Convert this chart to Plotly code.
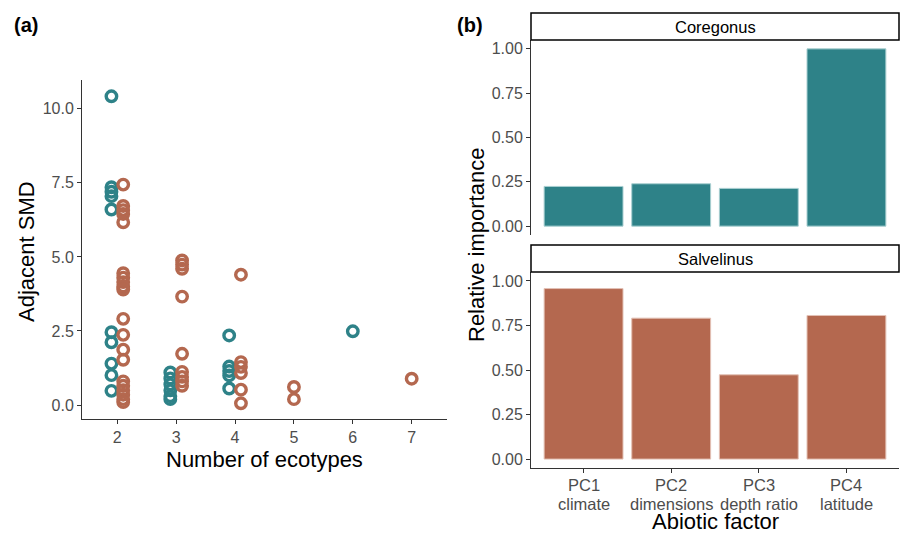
import plotly.graph_objects as go

# ---------------- data ----------------
species = ["Coregonus", "Salvelinus"]
colors = {"Coregonus": "#2e8288", "Salvelinus": "#b4684f"}

coregonus_ecotypes = [2, 2, 2, 2, 2, 2, 2, 2, 2, 2,
                      3, 3, 3, 3, 3, 3,
                      4, 4, 4, 4, 4,
                      6]
coregonus_smd = [10.42, 7.35, 7.2, 7.05, 6.6, 2.46, 2.12, 1.4, 1.01, 0.48,
                 1.1, 0.9, 0.7, 0.5, 0.3, 0.2,
                 2.35, 1.3, 1.15, 1.0, 0.56,
                 2.49]

salvelinus_ecotypes = [2] * 20 + [3] * 9 + [4] * 6 + [5] * 2 + [7]
salvelinus_smd = [7.44, 6.72, 6.58, 6.45, 6.17, 4.45, 4.3, 4.15, 4.0, 3.9,
                  2.91, 2.37, 1.87, 1.53, 0.8, 0.65, 0.5, 0.35, 0.2, 0.1,
                  4.88, 4.74, 4.6, 3.66, 1.73, 1.12, 0.95, 0.8, 0.65,
                  4.4, 1.45, 1.29, 1.08, 0.52, 0.06,
                  0.61, 0.2,
                  0.89]

factor_codes = ["PC1", "PC2", "PC3", "PC4"]
factor_names = ["climate", "dimensions", "depth ratio", "latitude"]
coregonus_importance = [0.224, 0.239, 0.213, 1.0]
salvelinus_importance = [0.957, 0.791, 0.473, 0.806]

# ---------------- layout helpers ----------------
W, H = 901, 535


def px_x(p):
    return p / W


def px_y(p):
    return 1 - p / H


# dodge: shift only where both species occur at the same ecotype count
shared = set(coregonus_ecotypes) & set(salvelinus_ecotypes)
dodge = 0.1
cx = [x - dodge if x in shared else x for x in coregonus_ecotypes]
sx = [x + dodge if x in shared else x for x in salvelinus_ecotypes]

fig = go.Figure()

fig.add_trace(go.Scatter(x=cx, y=coregonus_smd, mode="markers", name="Coregonus",
                         marker=dict(symbol="circle-open", size=10.5, color=colors["Coregonus"],
                                     line=dict(width=3.4, color=colors["Coregonus"])),
                         xaxis="x", yaxis="y", showlegend=False))
fig.add_trace(go.Scatter(x=sx, y=salvelinus_smd, mode="markers", name="Salvelinus",
                         marker=dict(symbol="circle-open", size=10.5, color=colors["Salvelinus"],
                                     line=dict(width=3.4, color=colors["Salvelinus"])),
                         xaxis="x", yaxis="y", showlegend=False))

fig.add_trace(go.Bar(x=factor_codes, y=coregonus_importance, width=0.9,
                     marker=dict(color=colors["Coregonus"], line=dict(color="#a9cfd1", width=1)),
                     xaxis="x2", yaxis="y2", showlegend=False))
fig.add_trace(go.Bar(x=factor_codes, y=salvelinus_importance, width=0.9,
                     marker=dict(color=colors["Salvelinus"], line=dict(color="#e3c1b5", width=1)),
                     xaxis="x3", yaxis="y3", showlegend=False))

FONT = "Liberation Sans, Arial"
tickfont = dict(family=FONT, size=16, color="#4d4d4d")
axis_common = dict(showline=True, linecolor="#333333", linewidth=1, ticks="outside",
                   ticklen=4, tickcolor="#333333", showgrid=False, zeroline=False,
                   tickfont=tickfont)

x_left = [px_x(82), px_x(447)]
x_right = [px_x(531), px_x(899)]

fig.update_layout(
    width=W, height=H,
    margin=dict(l=0, r=0, t=0, b=0),
    paper_bgcolor="white", plot_bgcolor="white",
    font=dict(family=FONT, color="black"),
    hovermode=False,
    xaxis=dict(domain=x_left, anchor="y", range=[1.4, 7.6],
               tickvals=[2, 3, 4, 5, 6, 7], **axis_common),
    yaxis=dict(domain=[px_y(419), px_y(80)], anchor="x", range=[-0.47, 10.97],
               tickvals=[0, 2.5, 5, 7.5, 10], tickformat=".1f", **axis_common),
    xaxis2=dict(domain=x_right, anchor="y2", range=[-0.6, 3.6], **axis_common),
    yaxis2=dict(domain=[px_y(235), px_y(40)], anchor="x2", range=[-0.05, 1.05],
                tickvals=[0, 0.25, 0.5, 0.75, 1.0], tickformat=".2f", **axis_common),
    xaxis3=dict(domain=x_right, anchor="y3", range=[-0.6, 3.6], **axis_common),
    yaxis3=dict(domain=[px_y(468), px_y(272)], anchor="x3", range=[-0.05, 1.05],
                tickvals=[0, 0.25, 0.5, 0.75, 1.0], tickformat=".2f", **axis_common),
)
# top facet: no x axis line / labels (ggplot facet style)
fig.layout.xaxis2.showline = False
fig.layout.xaxis2.showticklabels = False
fig.layout.xaxis2.ticks = ""
# bottom facet: two-line category labels drawn as annotations (tighter line height)
fig.layout.xaxis3.showticklabels = False

label_font = dict(family=FONT, size=16.5, color="#4d4d4d")
for code, name in zip(factor_codes, factor_names):
    fig.add_annotation(text=code, xref="x3", yref="paper", x=code, y=px_y(484.5),
                       showarrow=False, font=label_font, xanchor="center", yanchor="middle",
                       borderpad=0)
    fig.add_annotation(text=name, xref="x3", yref="paper", x=code, y=px_y(503.5),
                       showarrow=False, font=label_font, xanchor="center", yanchor="middle",
                       borderpad=0)

# facet strips
for (y0, y1, label) in [(13, 40, "Coregonus"), (245, 272, "Salvelinus")]:
    fig.add_shape(type="rect", xref="paper", yref="paper",
                  x0=px_x(531), x1=px_x(899), y0=px_y(y1), y1=px_y(y0),
                  line=dict(color="black", width=1.5), fillcolor="white")
    fig.add_annotation(text=label, xref="paper", yref="paper",
                       x=px_x(715), y=px_y((y0 + y1) / 2), showarrow=False,
                       font=dict(family=FONT, size=16.5, color="black"),
                       xanchor="center", yanchor="middle")

title_font = dict(family=FONT, size=22, color="black")
fig.add_annotation(text="Number of ecotypes", xref="paper", yref="paper", x=px_x(264), y=px_y(459),
                   showarrow=False, font=title_font, xanchor="center", yanchor="middle")
fig.add_annotation(text="Adjacent SMD", xref="paper", yref="paper", x=px_x(26), y=px_y(252),
                   showarrow=False, font=title_font, textangle=-90, xanchor="center", yanchor="middle")
fig.add_annotation(text="Abiotic factor", xref="paper", yref="paper", x=px_x(715), y=px_y(521.5),
                   showarrow=False, font=title_font, xanchor="center", yanchor="middle",
                   borderpad=0)
fig.add_annotation(text="Relative importance", xref="paper", yref="paper", x=px_x(477), y=px_y(245),
                   showarrow=False, font=title_font, textangle=-90, xanchor="center", yanchor="middle")

panel_font = dict(family=FONT, size=20, color="black")
fig.add_annotation(text="<b>(a)</b>", xref="paper", yref="paper", x=px_x(12), y=px_y(25),
                   showarrow=False, font=panel_font, xanchor="left", yanchor="middle")
fig.add_annotation(text="<b>(b)</b>", xref="paper", yref="paper", x=px_x(455), y=px_y(25),
                   showarrow=False, font=panel_font, xanchor="left", yanchor="middle")

fig.write_html("out.html", config={"displayModeBar": False})

# remove the default body margin so the figure sits at the page origin
with open("out.html", "r", encoding="utf-8") as f:
    html = f.read()
html = html.replace("<head>", "<head><style>html,body{margin:0;padding:0;overflow:hidden;}</style>", 1)
with open("out.html", "w", encoding="utf-8") as f:
    f.write(html)
